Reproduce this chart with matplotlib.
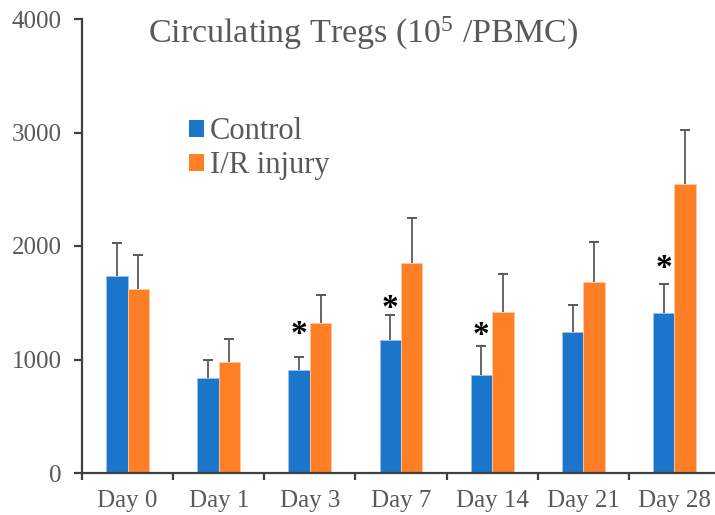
import matplotlib
matplotlib.use("Agg")
import matplotlib.pyplot as plt  # noqa: I201
from matplotlib.patches import Patch  # noqa: I201
import numpy as np  # noqa: I201

days = ["Day 0", "Day 1", "Day 3", "Day 7", "Day 14", "Day 21", "Day 28"]
control = [1735, 835, 905, 1168, 863, 1246, 1408]
control_err = [291, 158, 118, 224, 256, 236, 257]
injury = [1620, 976, 1323, 1853, 1418, 1685, 2546]
injury_err = [304, 205, 247, 398, 333, 352, 474]
star_days = [2, 3, 4, 6]
star_heights = [1220, 1450, 1215, 1800]

GRAY = "#595959"
BLUE = "#1b75cb"
ORANGE = "#ff7f27"

plt.rcParams["font.family"] = ["Liberation Serif", "DejaVu Serif"]
plt.rcParams["mathtext.fontset"] = "custom"
plt.rcParams["mathtext.rm"] = "Liberation Serif"
plt.rcParams["mathtext.default"] = "regular"

fig = plt.figure(figsize=(7.15, 5.15), dpi=100)
ax = fig.add_axes([82 / 715, 1 - 473 / 515, 638 / 715, 454 / 515])

x = np.arange(len(days))
w = 0.235


def bars_with_err(pos, vals, errs, color, edge, label):
    ax.bar(pos, vals, w, color=color, edgecolor=edge, linewidth=0.6,
           label=label, zorder=2)
    tops = np.array(vals) + np.array(errs)
    ax.vlines(pos, vals, tops, color=GRAY, linewidth=1.3, zorder=1)
    ax.plot(pos, tops, ls="none", marker="_", markersize=7,
            markeredgewidth=1.4, color=GRAY, zorder=1)


bars_with_err(x - w / 2, control, control_err, BLUE, "#9cc3ea", "Control")
bars_with_err(x + w / 2, injury, injury_err, ORANGE, "#ffc9a3", "I/R injury")

# significance marks over the control bars
for d, h in zip(star_days, star_heights):
    ax.text(d - w / 2, h, "*", ha="center", va="center", fontsize=24,
            fontweight="bold", color="black")

ax.set_xlim(-0.5, len(days) - 0.5)
ax.set_ylim(0, 4000)
ax.set_yticks([0, 1000, 2000, 3000, 4000])
ax.set_xticks(x)
ax.set_xticklabels(days)
ax.set_xticks(np.arange(len(days)) - 0.5, minor=True)

for s in ["top", "right"]:
    ax.spines[s].set_visible(False)
for s in ["left", "bottom"]:
    ax.spines[s].set_color("#404040")
    ax.spines[s].set_linewidth(1.6)

ax.tick_params(axis="y", direction="out", length=5.5, width=1.6,
               color="#404040", labelsize=18, labelcolor=GRAY, pad=9)
ax.tick_params(axis="x", which="major", length=0, labelsize=18,
               labelcolor=GRAY, pad=12)
ax.tick_params(axis="x", which="minor", direction="out", length=5,
               width=1.6, color="#404040")

handles = [Patch(facecolor=BLUE), Patch(facecolor=ORANGE)]
fig.legend(handles, ["Control", "I/R injury"], loc="upper left",
           bbox_to_anchor=(189 / 715, 1 - 117 / 515), frameon=False,
           fontsize=22, labelcolor=GRAY, handlelength=0.48,
           handleheight=0.48, handletextpad=0.2, labelspacing=0.18,
           borderpad=0, borderaxespad=0)

fig.text(363 / 715, 1 - 33 / 515, r"Circulating Tregs (10$^{5}$ /PBMC)",
         ha="center", va="center", fontsize=24.5, color=GRAY)

fig.savefig("out.png", dpi=100)
